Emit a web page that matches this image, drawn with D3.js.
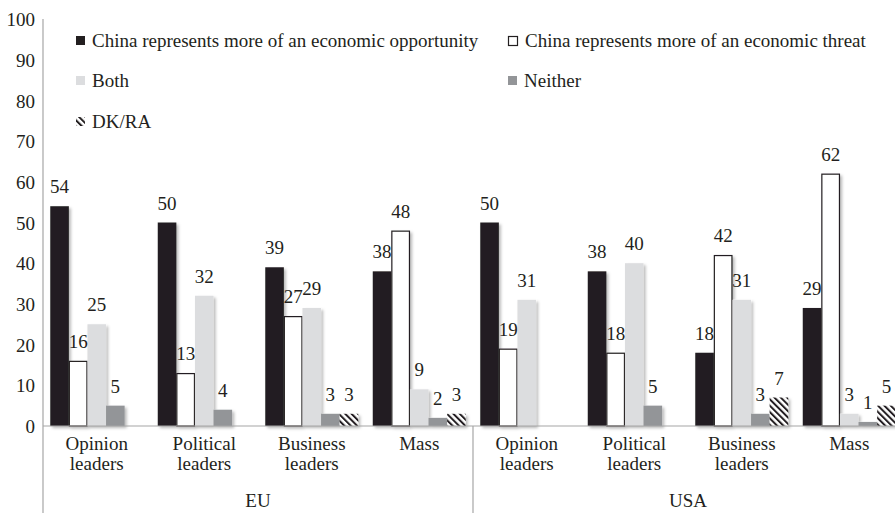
<!DOCTYPE html>
<html>
<head>
<meta charset="utf-8">
<script src="https://cdn.jsdelivr.net/npm/d3@7"></script>
<style>
  html, body { margin: 0; padding: 0; background: #fff; }
  svg, svg text { font-family: "Liberation Serif", "Times New Roman", Times, "DejaVu Serif", serif; }
</style>
</head>
<body>
<svg id="chart" width="895" height="513"></svg>
<script>
// ---- data ----
const groups = ["EU", "USA"];
const categories = ["Opinion leaders", "Political leaders", "Business leaders", "Mass"];
const series = [
  "China represents more of an economic opportunity",
  "China represents more of an economic threat",
  "Both",
  "Neither",
  "DK/RA"
];
// values per group/category (null = not shown)
const opportunity = [54, 50, 39, 38, 50, 38, 18, 29];
const threat      = [16, 13, 27, 48, 19, 18, 42, 62];
const both        = [25, 32, 29, 9, 31, 40, 31, 3];
const neither     = [5, 4, 3, 2, null, 5, 3, 1];
const dkra        = [null, null, 3, 3, null, null, 7, 5];
const yTicks = [0, 10, 20, 30, 40, 50, 60, 70, 80, 90, 100];

const FONT = '"Liberation Serif", "Times New Roman", Times, "DejaVu Serif", serif';
const seriesValues = [opportunity, threat, both, neither, dkra];
const keys = [];
groups.forEach(g => categories.forEach(c => keys.push(g + "|" + c)));

const svg = d3.select("#chart").attr("font-family", FONT);
const defs = svg.append("defs");
const pat = defs.append("pattern").attr("id", "hatch")
  .attr("patternUnits", "userSpaceOnUse").attr("width", 4.5).attr("height", 4.5)
  .attr("patternTransform", "rotate(-45)");
pat.append("rect").attr("width", 4.5).attr("height", 4.5).attr("fill", "#fff");
pat.append("rect").attr("width", 2).attr("height", 4.5).attr("fill", "#231f20");
const flt = defs.append("filter").attr("id", "shadow").attr("x", "-30%").attr("y", "-10%").attr("width", "180%").attr("height", "130%");
flt.append("feDropShadow").attr("dx", 2).attr("dy", 2).attr("stdDeviation", 1.8)
  .attr("flood-color", "#000").attr("flood-opacity", 0.28);

const fills = ["#231f20", "#ffffff", "#dcdddf", "#939598", "url(#hatch)"];
const strokes = [null, "#231f20", null, null, null];

const x0 = d3.scaleBand().domain(keys).range([43, 903]).padding(0);
const x1 = d3.scaleBand().domain(series).range([0, x0.bandwidth()]).paddingInner(0).paddingOuter(0.39);
const y = d3.scaleLinear().domain([0, 100]).range([426, 19]);

// y axis labels
const yAxis = d3.axisLeft(y).tickValues(yTicks).tickSize(0).tickPadding(8);
const ya = svg.append("g").attr("transform", "translate(43,0)").call(yAxis);
ya.attr("font-family", FONT);
ya.select(".domain").remove();
ya.selectAll("text").attr("font-family", FONT).attr("font-size", 19)
  .attr("fill", "#231f20").attr("dy", "0.35em");

// bars
const data = [];
keys.forEach((k, i) => {
  series.forEach((s, j) => {
    const v = seriesValues[j][i];
    if (v !== null) data.push({ key: k, s, j, v });
  });
});

svg.append("g").attr("filter", "url(#shadow)")
  .selectAll("rect").data(data).join("rect")
  .attr("x", d => x0(d.key) + x1(d.s) + (strokes[d.j] ? 0.5 : 0))
  .attr("y", d => y(d.v) + (strokes[d.j] ? 0.5 : 0))
  .attr("width", d => x1.bandwidth() - (strokes[d.j] ? 1 : 0))
  .attr("height", d => y(0) - y(d.v) - (strokes[d.j] ? 0.5 : 0))
  .attr("fill", d => fills[d.j])
  .attr("stroke", d => strokes[d.j])
  .attr("stroke-width", 1.2);

// value labels
svg.append("g").selectAll("text").data(data).join("text")
  .attr("x", d => x0(d.key) + x1(d.s) + x1.bandwidth() / 2)
  .attr("y", d => y(d.v) - 13)
  .attr("text-anchor", "middle")
  .attr("font-family", FONT)
  .attr("font-size", 19).attr("fill", "#231f20")
  .text(d => d.v);

// axis lines
const axisColor = "#a6a6a6";
svg.append("line").attr("x1", 43).attr("x2", 43).attr("y1", y(100)).attr("y2", 513)
  .attr("stroke", axisColor).attr("stroke-width", 1.2);
svg.append("line").attr("x1", 43).attr("x2", 895).attr("y1", y(0)).attr("y2", y(0))
  .attr("stroke", axisColor).attr("stroke-width", 1.2);
svg.append("line").attr("x1", x0(keys[4])).attr("x2", x0(keys[4])).attr("y1", y(0)).attr("y2", 513)
  .attr("stroke", axisColor).attr("stroke-width", 1.2);

// category labels
const catG = svg.append("g").selectAll("text").data(keys).join("text")
  .attr("text-anchor", "middle").attr("font-family", FONT).attr("font-size", 19).attr("fill", "#231f20");
catG.each(function(k) {
  const parts = k.split("|")[1].split(" ");
  const t = d3.select(this);
  parts.forEach((p, i) => {
    t.append("tspan").attr("x", x0(k) + x0.bandwidth() / 2).attr("y", 450 + i * 20).text(p);
  });
});

// group labels
svg.append("g").selectAll("text").data(groups).join("text")
  .attr("x", (g, i) => {
    const a = x0(keys[i * 4]);
    const b = x0(keys[i * 4 + 3]) + x0.bandwidth();
    return (a + b) / 2;
  })
  .attr("y", 507).attr("text-anchor", "middle").attr("font-family", FONT).attr("font-size", 19).attr("fill", "#231f20")
  .text(g => g);

// legend
const legPos = [
  { x: 76, y: 47 }, { x: 508, y: 47 },
  { x: 76, y: 87 }, { x: 508, y: 87 },
  { x: 76, y: 128 }
];
const leg = svg.append("g").selectAll("g").data(series).join("g")
  .attr("transform", (d, i) => `translate(${legPos[i].x},${legPos[i].y})`);
leg.append("rect")
  .attr("x", (d, i) => i === 1 ? 0.5 : 0).attr("y", (d, i) => i === 1 ? -10.5 : -11)
  .attr("width", 9).attr("height", 9)
  .attr("fill", (d, i) => fills[i])
  .attr("stroke", (d, i) => strokes[i]).attr("stroke-width", 1.2);
leg.append("text").attr("x", (d, i) => i === 1 ? 17 : 16).attr("y", 0)
  .attr("font-family", FONT)
  .attr("font-size", 19).attr("fill", "#231f20").text(d => d);
</script>
</body>
</html>
